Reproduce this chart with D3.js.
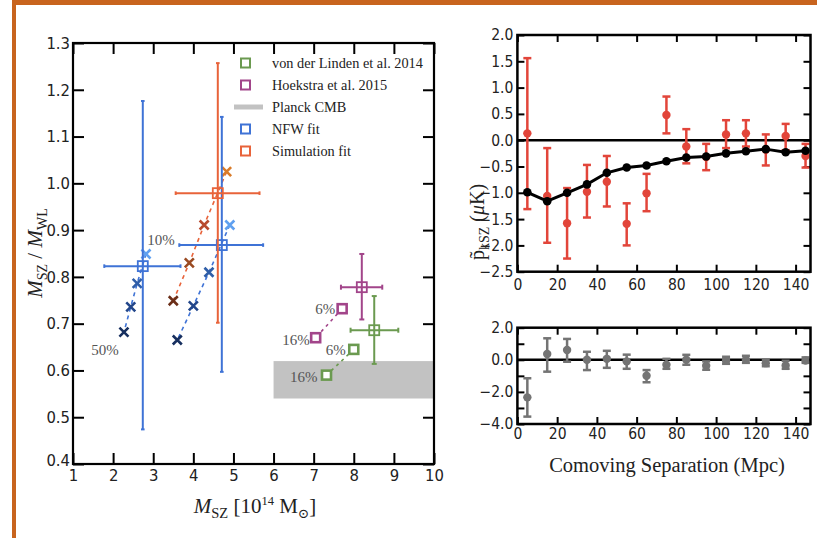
<!DOCTYPE html>
<html><head><meta charset="utf-8">
<script src="https://cdn.jsdelivr.net/npm/d3@7"></script>
<style>
body{margin:0;background:#fff;}
svg{display:block;}
.tk{font-family:"DejaVu Sans Condensed","Liberation Sans Narrow","DejaVu Sans",sans-serif;}
.sf{font-family:"Liberation Serif","DejaVu Serif",serif;}
</style></head>
<body>
<svg id="c" width="817" height="538"></svg>
<script>
// ---------- LEFT PANEL DATA ----------
const xTicksLeft = [1,2,3,4,5,6,7,8,9,10];
const yTicksLeft = [0.4,0.5,0.6,0.7,0.8,0.9,1.0,1.1,1.2,1.3];
// fits with error bars: [x, y, xlo, xhi, ylo, yhi]
const nfwFits = [[2.74,0.823,1.78,3.68,0.474,1.176],[4.71,0.868,3.65,5.74,0.597,1.142]];
const simFits = [[4.61,0.979,3.56,5.65,0.702,1.257]];
const hoekstra = [[8.20,0.778,7.68,8.71,0.709,0.849]];
const vonderLinden = [[8.51,0.686,7.92,9.11,0.614,0.759]];
// model crosses (10% ... 50%)
const nfwCross1 = [[2.82,0.849],[2.60,0.786],[2.44,0.736],[2.27,0.682]];
const nfwCross2 = [[4.91,0.911],[4.39,0.810],[4.00,0.738],[3.60,0.665]];
const simCross  = [[4.83,1.025],[4.27,0.911],[3.90,0.830],[3.50,0.749]];
// small-square predictions [x, y, label]
const hoekstraPred = [[7.71,0.732,"6%"],[7.05,0.670,"16%"]];
const vdlPred = [[8.00,0.645,"6%"],[7.32,0.590,"16%"]];
const planckBand = [6.0,10.0,0.54,0.62];
const legendLabels = ["von der Linden et al. 2014","Hoekstra et al. 2015","Planck CMB","NFW fit","Simulation fit"];

// ---------- RIGHT PANEL DATA ----------
const sep = [5,15,25,35,45,55,65,75,85,95,105,115,125,135,145];
const redVal = [0.13,-1.06,-1.58,-0.98,-0.79,-1.59,-1.01,0.48,-0.12,-0.32,0.11,0.13,-0.18,0.08,-0.30];
const redHi  = [1.56,-0.15,-0.91,-0.47,-0.30,-1.20,-0.64,0.83,0.21,-0.07,0.38,0.38,0.11,0.31,-0.07];
const redLo  = [-1.31,-1.95,-2.25,-1.47,-1.26,-2.00,-1.35,0.13,-0.44,-0.57,-0.15,-0.12,-0.48,-0.19,-0.52];
const modelVal = [-0.99,-1.16,-1.00,-0.84,-0.62,-0.52,-0.48,-0.40,-0.33,-0.31,-0.25,-0.21,-0.17,-0.23,-0.20];
const resVal = [-2.34,0.36,0.61,0.00,0.06,-0.10,-0.99,-0.31,0.00,-0.37,-0.06,0.00,-0.21,-0.35,-0.04];
const resHi  = [-1.15,1.34,1.30,0.50,0.56,0.32,-0.64,0.06,0.31,-0.10,0.19,0.25,0.00,-0.06,0.15];
const resLo  = [-3.54,-0.74,-0.12,-0.64,-0.50,-0.56,-1.40,-0.56,-0.31,-0.62,-0.25,-0.19,-0.40,-0.56,-0.19];
const xTicksRight = [0,20,40,60,80,100,120,140];
const yTicksTop = [-2.5,-2.0,-1.5,-1.0,-0.5,0.0,0.5,1.0,1.5,2.0];
const yTicksBot = [-4,-3,-2,-1,0,1,2];
const yLabelsBot = [-4,-2,0,2];

// ---------- COLORS ----------
const C = {blue:"#3f73d6", orange:"#e8633a", green:"#6b9a50", purple:"#a2458a", gray:"#c2c2c2",
  red:"#e2453a", res:"#747474", border:"#c8641e"};
const nfwCrossCol = ["#5fa0f0","#2f5ea8","#22468a","#172f5f"];
const simCrossCol = ["#d97b29","#b84a2e","#9a4a22","#6b2e18"];

const svg = d3.select("#c");

// border
svg.append("rect").attr("x",12).attr("y",0).attr("width",805).attr("height",5).attr("fill",C.border);
svg.append("rect").attr("x",12).attr("y",0).attr("width",4).attr("height",538).attr("fill",C.border);

// ================= LEFT PANEL =================
const L = {l:73, r:434, t:43, b:464};
const x = d3.scaleLinear([1,10],[L.l,L.r]);
const y = d3.scaleLinear([0.4,1.3],[L.b,L.t]);
const gL = svg.append("g");

function styleAxis(g, fs){
  g.select(".domain").remove();
  g.selectAll(".tick line").attr("stroke","#000").attr("stroke-width",2);
  g.selectAll("text").attr("class","tk").attr("font-size",fs).attr("fill","#222");
}
gL.append("g").attr("transform",`translate(0,${L.b})`)
  .call(d3.axisBottom(x).tickValues(xTicksLeft).tickFormat(d3.format("d")).tickSizeInner(-11).tickSizeOuter(0).tickPadding(5))
  .call(g=>styleAxis(g,16.5));
gL.append("g").attr("transform",`translate(0,${L.t})`)
  .call(d3.axisTop(x).tickValues(xTicksLeft).tickFormat("").tickSizeInner(-11).tickSizeOuter(0))
  .call(g=>styleAxis(g,16));
gL.append("g").attr("transform",`translate(${L.l},0)`)
  .call(d3.axisLeft(y).tickValues(yTicksLeft).tickFormat(d3.format(".1f")).tickSizeInner(-11).tickSizeOuter(0).tickPadding(3))
  .call(g=>styleAxis(g,16.5));
gL.append("g").attr("transform",`translate(${L.r},0)`)
  .call(d3.axisRight(y).tickValues(yTicksLeft).tickFormat("").tickSizeInner(-11).tickSizeOuter(0))
  .call(g=>styleAxis(g,16));
// lift the bottom-most y label slightly so it clears the "1" below it
gL.selectAll("text").filter(function(){return this.textContent==="0.4";}).attr("dy","0.1em");

// planck band
gL.append("rect").attr("x",x(planckBand[0])).attr("y",y(planckBand[3]))
  .attr("width",x(planckBand[1])-x(planckBand[0])).attr("height",y(planckBand[2])-y(planckBand[3]))
  .attr("fill",C.gray);

function errBars(g, data, col, cap){
  data.forEach(d=>{
    const [cx,cy,xlo,xhi,ylo,yhi]=d;
    g.append("line").attr("x1",x(xlo)).attr("x2",x(xhi)).attr("y1",y(cy)).attr("y2",y(cy)).attr("stroke",col).attr("stroke-width",2);
    g.append("line").attr("x1",x(cx)).attr("x2",x(cx)).attr("y1",y(ylo)).attr("y2",y(yhi)).attr("stroke",col).attr("stroke-width",2);
    [[x(xlo),y(cy),0],[x(xhi),y(cy),0],[x(cx),y(ylo),1],[x(cx),y(yhi),1]].forEach(([px,py,v])=>{
      if(v) g.append("line").attr("x1",px-cap).attr("x2",px+cap).attr("y1",py).attr("y2",py).attr("stroke",col).attr("stroke-width",2);
      else g.append("line").attr("x1",px).attr("x2",px).attr("y1",py-cap).attr("y2",py+cap).attr("stroke",col).attr("stroke-width",2);
    });
    g.append("rect").attr("x",x(cx)-5).attr("y",y(cy)-5).attr("width",10).attr("height",10)
      .attr("fill","none").attr("stroke",col).attr("stroke-width",1.8);
  });
}
function crosses(g, data, cols, lineCol){
  const line = d3.line().x(d=>x(d[0])).y(d=>y(d[1]));
  g.append("path").attr("d",line(data)).attr("fill","none").attr("stroke",lineCol).attr("stroke-width",1.6).attr("stroke-dasharray","4,4");
  data.forEach((d,i)=>{
    const px=x(d[0]), py=y(d[1]), s=4.5;
    g.append("path").attr("d",`M${px-s},${py-s}L${px+s},${py+s}M${px-s},${py+s}L${px+s},${py-s}`)
      .attr("stroke",cols[i]).attr("stroke-width",2.6);
  });
}
crosses(gL, simCross, simCrossCol, C.orange);
crosses(gL, nfwCross1, nfwCrossCol, C.blue);
crosses(gL, nfwCross2, nfwCrossCol, C.blue);
errBars(gL, nfwFits, C.blue, 1.8);
errBars(gL, simFits, C.orange, 1.8);
errBars(gL, hoekstra, C.purple, 2.5);
errBars(gL, vonderLinden, C.green, 2.5);

function preds(g, data, col, offs){
  g.append("path").attr("d",d3.line().x(d=>x(d[0])).y(d=>y(d[1]))(data))
    .attr("fill","none").attr("stroke",col).attr("stroke-width",1.6).attr("stroke-dasharray","3,4");
  data.forEach((d,i)=>{
    g.append("rect").attr("x",x(d[0])-4.5).attr("y",y(d[1])-4.5).attr("width",9).attr("height",9)
      .attr("fill","#fff").attr("stroke",col).attr("stroke-width",2.6);
    g.append("text").attr("class","sf").attr("x",x(d[0])+offs[i][0]).attr("y",y(d[1])+offs[i][1])
      .attr("text-anchor","end").attr("dominant-baseline","central").attr("font-size",15).attr("fill","#555").text(d[2]);
  });
}
preds(gL, hoekstraPred, C.purple, [[-7,0],[-6,2]]);
preds(gL, vdlPred, C.green, [[-8,1],[-9,2]]);

// percent labels for crosses
gL.append("text").attr("class","sf").attr("x",x(nfwCross1[0][0])+15).attr("y",y(nfwCross1[0][1])-14)
  .attr("text-anchor","middle").attr("dominant-baseline","central").attr("font-size",15).attr("fill","#555").text("10%");
gL.append("text").attr("class","sf").attr("x",x(nfwCross1[3][0])-19).attr("y",y(nfwCross1[3][1])+18)
  .attr("text-anchor","middle").attr("dominant-baseline","central").attr("font-size",15).attr("fill","#555").text("50%");

// frame
gL.append("rect").attr("x",L.l).attr("y",L.t).attr("width",L.r-L.l).attr("height",L.b-L.t)
  .attr("fill","none").attr("stroke","#000").attr("stroke-width",2.2);

// legend
const legCols = [C.green,C.purple,null,C.blue,C.orange];
legendLabels.forEach((lab,i)=>{
  const ly = 63 + i*22;
  if(legCols[i]) gL.append("rect").attr("x",241).attr("y",ly-4.5).attr("width",9).attr("height",9)
      .attr("fill","none").attr("stroke",legCols[i]).attr("stroke-width",2);
  else gL.append("line").attr("x1",234).attr("x2",263).attr("y1",ly).attr("y2",ly).attr("stroke",C.gray).attr("stroke-width",5);
  gL.append("text").attr("class","sf").attr("x",272).attr("y",ly).attr("dominant-baseline","central")
    .attr("font-size",14.3).attr("fill","#222").text(lab);
});

// axis labels
const yl = gL.append("text").attr("class","sf").attr("transform","translate(42,253) rotate(-90)")
  .attr("text-anchor","middle").attr("font-size",21).attr("fill","#222");
yl.append("tspan").attr("font-style","italic").text("M");
yl.append("tspan").attr("font-size",14).attr("dy",5).text("SZ");
yl.append("tspan").attr("dy",-5).text(" / ");
yl.append("tspan").attr("font-style","italic").text("M");
yl.append("tspan").attr("font-size",14).attr("dy",5).text("WL");

const xl = gL.append("text").attr("class","sf").attr("x",255).attr("y",513)
  .attr("text-anchor","middle").attr("font-size",21).attr("fill","#222");
xl.append("tspan").attr("font-style","italic").text("M");
xl.append("tspan").attr("font-size",14.5).attr("dy",5).text("SZ");
xl.append("tspan").attr("dy",-5).text(" [10");
xl.append("tspan").attr("font-size",12.5).attr("dy",-8).text("14");
xl.append("tspan").attr("dy",8).text(" M");
xl.append("tspan").attr("font-size",13.5).attr("dy",5).text("⊙");
xl.append("tspan").attr("dy",-5).text("]");

// ================= RIGHT PANELS =================
const R = {l:517.4, r:810.5};
const xr = d3.scaleLinear([0,147.5],[R.l,R.r]);
const T = {t:35, b:271.7};
const yt = d3.scaleLinear([-2.5,2.0],[T.b,T.t]);
const B = {t:327.7, b:424};
const yb = d3.scaleLinear([-4,2],[B.b,B.t]);
const gR = svg.append("g");

function rightAxes(ys, top, bot, yTicks, yLabels, fmt, pad){
  gR.append("g").attr("transform",`translate(0,${bot})`)
    .call(d3.axisBottom(xr).tickValues(xTicksRight).tickFormat(d3.format("d")).tickSizeInner(-7).tickSizeOuter(0).tickPadding(pad))
    .call(g=>styleAxis(g,15.5));
  gR.append("g").attr("transform",`translate(0,${top})`)
    .call(d3.axisTop(xr).tickValues(xTicksRight).tickFormat("").tickSizeInner(-7).tickSizeOuter(0))
    .call(g=>styleAxis(g,15.5));
  gR.append("g").attr("transform",`translate(${R.l},0)`)
    .call(d3.axisLeft(ys).tickValues(yTicks).tickFormat(d=>yLabels.includes(d)?fmt(d):"").tickSizeInner(-7).tickSizeOuter(0).tickPadding(4))
    .call(g=>styleAxis(g,15.5));
  gR.append("g").attr("transform",`translate(${R.r},0)`)
    .call(d3.axisRight(ys).tickValues(yTicks).tickFormat("").tickSizeInner(-7).tickSizeOuter(0))
    .call(g=>styleAxis(g,15.5));
  gR.append("line").attr("x1",R.l).attr("x2",R.r).attr("y1",ys(0)).attr("y2",ys(0)).attr("stroke","#000").attr("stroke-width",2.5);
}
rightAxes(yt, T.t, T.b, yTicksTop, yTicksTop, d3.format(".1f"), 7);
rightAxes(yb, B.t, B.b, yTicksBot, yLabelsBot, d3.format(".1f"), 4);

function rErr(ys, vals, his, los, col, r){
  sep.forEach((s,i)=>{
    const px = xr(s);
    gR.append("line").attr("x1",px).attr("x2",px).attr("y1",ys(los[i])).attr("y2",ys(his[i])).attr("stroke",col).attr("stroke-width",2.5);
    [his[i],los[i]].forEach(v=>gR.append("line").attr("x1",px-4).attr("x2",px+4).attr("y1",ys(v)).attr("y2",ys(v)).attr("stroke",col).attr("stroke-width",2.5));
    gR.append("circle").attr("cx",px).attr("cy",ys(vals[i])).attr("r",r).attr("fill",col);
  });
}
rErr(yt, redVal, redHi, redLo, C.red, 4.2);
gR.append("path").attr("d",d3.line().x((d,i)=>xr(sep[i])).y(d=>yt(d))(modelVal))
  .attr("fill","none").attr("stroke","#000").attr("stroke-width",3);
sep.forEach((s,i)=>gR.append("circle").attr("cx",xr(s)).attr("cy",yt(modelVal[i])).attr("r",4.3).attr("fill","#000"));
rErr(yb, resVal, resHi, resLo, C.res, 4.2);

// frames
[[T.t,T.b],[B.t,B.b]].forEach(([t,b])=>gR.append("rect").attr("x",R.l).attr("y",t).attr("width",R.r-R.l).attr("height",b-t)
  .attr("fill","none").attr("stroke","#000").attr("stroke-width",2.5));

// right labels
gR.append("text").attr("class","sf").attr("x",667).attr("y",472).attr("text-anchor","middle")
  .attr("font-size",20.5).attr("fill","#222").text("Comoving Separation (Mpc)");
const ry = gR.append("text").attr("class","sf").attr("transform","translate(484,222) rotate(-90)")
  .attr("text-anchor","middle").attr("font-size",20).attr("fill","#222");
ry.append("tspan").text("p\u0303");
ry.append("tspan").attr("font-size",14).attr("dy",5).text("kSZ");
ry.append("tspan").attr("dy",-5).text(" (");
ry.append("tspan").attr("font-style","italic").text("μ");
ry.append("tspan").text("K)");
</script>
</body></html>
